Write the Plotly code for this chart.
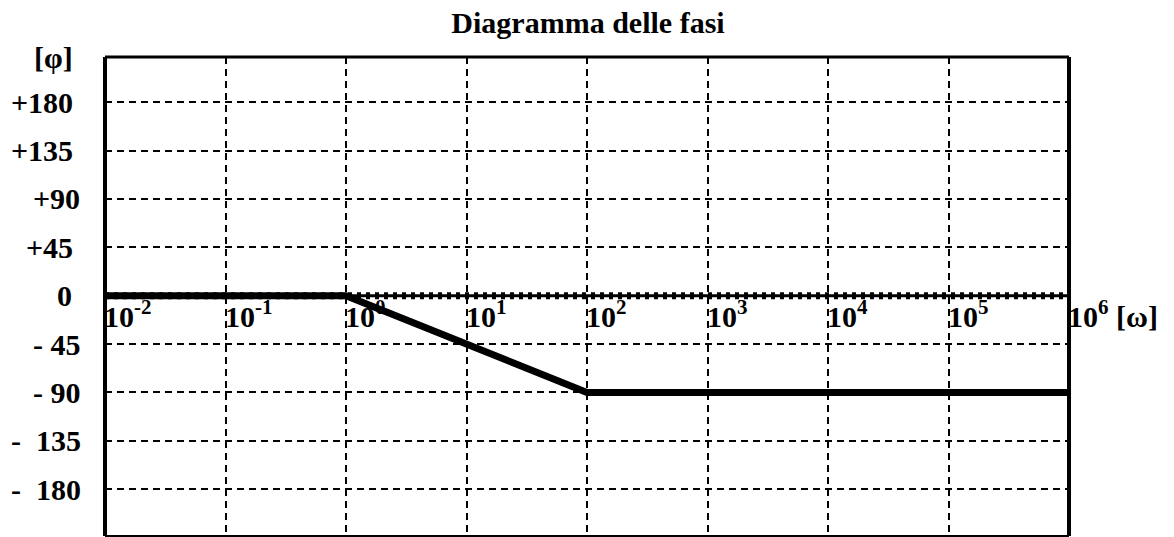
import plotly.graph_objects as go

# corner points of the asymptotic phase plot
omega = [1e-2, 1e0, 1e2, 1e6]
phase = [0, 0, -90, -90]

x_decades = [-2, -1, 0, 1, 2, 3, 4, 5, 6]
y_grid = [180, 135, 90, 45, -45, -90, -135, -180]
y_labels = ["+180", "+135", "+90", "+45", "0", "- 45", "- 90",
            "-\u00a0 135", "-\u00a0 180"]
y_label_vals = [180, 135, 90, 45, 0, -45, -90, -135, -180]
y_label_right = [73, 73, 80, 73, 72, 81, 81, 81, 81]

FONT = "Liberation Serif, Times New Roman, serif"
FS = 30
# page body has an 8px margin, so the figure is a bit smaller than the window
W, H = 1166, 529
L, R, T, B = 97, 105, 49, 1
YR = [-223.5, 222]

fig = go.Figure()

# zero axis: solid line with a thick dotted line on top
fig.add_trace(go.Scatter(x=[10.0 ** x_decades[0], 10.0 ** x_decades[-1]], y=[0, 0],
                         mode="lines", line=dict(color="black", width=3),
                         showlegend=False, hoverinfo="skip"))
fig.add_trace(go.Scatter(x=[10.0 ** x_decades[0], 10.0 ** x_decades[-1]], y=[0, 0],
                         mode="lines", line=dict(color="black", width=7, dash="4px,5px"),
                         showlegend=False, hoverinfo="skip"))

fig.add_trace(go.Scatter(x=omega, y=phase, mode="lines",
                         line=dict(color="black", width=7),
                         showlegend=False))

lab_font = dict(family=FONT, size=FS, color="black", weight="bold")
annotations = []
for v, txt, rx in zip(y_label_vals, y_labels, y_label_right):
    annotations.append(dict(x=0, xref="paper", y=v, yref="y", text=txt,
                            xanchor="right", yanchor="middle", xshift=-(105 - rx),
                            borderpad=0, borderwidth=0,
                            showarrow=False, font=lab_font))
annotations.append(dict(x=0, xref="paper", y=YR[1], yref="y", text="[φ]",
                        xanchor="right", yanchor="middle", xshift=-(105 - 73),
                        borderpad=0, borderwidth=0,
                        showarrow=False, font=lab_font))

for d in x_decades:
    txt = "10<sup>%d</sup>" % d
    if d == x_decades[-1]:
        txt += " [ω]"
    annotations.append(dict(x=d, xref="x", y=0, yref="y", text=txt,
                            xanchor="left", yanchor="top", xshift=-1, yshift=1,
                            borderpad=0, borderwidth=0,
                            showarrow=False, font=lab_font))

fig.update_layout(
    width=W, height=H,
    margin=dict(l=L, r=R, t=T, b=B),
    plot_bgcolor="white", paper_bgcolor="white",
    title=dict(text="Diagramma delle fasi", x=(588 - 8) / W,
               xanchor="center", y=1, yref="container", yanchor="top", pad=dict(t=4),
               font=dict(family=FONT, size=FS, color="black", weight="bold")),
    xaxis=dict(type="log", range=[x_decades[0], x_decades[-1]],
               tickvals=[10.0 ** d for d in x_decades[1:-1]],
               showticklabels=False, ticks="", showline=False, zeroline=False,
               showgrid=True, gridcolor="black", gridwidth=1.5, griddash="7px,5px"),
    yaxis=dict(range=YR, tickvals=y_grid, showticklabels=False, ticks="",
               showline=False, zeroline=False,
               showgrid=True, gridcolor="black", gridwidth=1.5, griddash="7px,5px"),
    annotations=annotations,
    shapes=[
        dict(type="line", xref="paper", yref="paper", x0=0, x1=0, y0=0, y1=1,
             line=dict(color="black", width=4)),
        dict(type="line", xref="paper", yref="paper", x0=1, x1=1, y0=0, y1=1,
             line=dict(color="black", width=4)),
        dict(type="line", xref="paper", yref="paper", x0=0, x1=1, y0=1, y1=1,
             line=dict(color="black", width=3)),
        dict(type="line", xref="paper", yref="paper", x0=0, x1=1, y0=0, y1=0,
             line=dict(color="black", width=2)),
    ],
)

fig.write_html("out.html")
